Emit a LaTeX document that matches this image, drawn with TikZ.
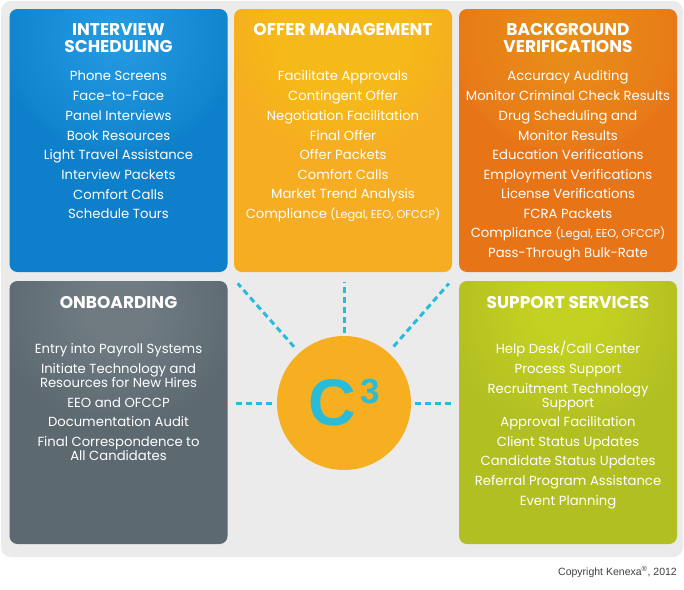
\documentclass[tikz,border=0pt]{standalone}
\usepackage{fontspec}
\setmainfont{Poppins}
\newfontfamily\arialfont{Liberation Sans}
\definecolor{ivblue}{HTML}{0E7FCA}
\definecolor{ivlight}{HTML}{35AEF2}
\definecolor{offeryel}{HTML}{F6AD22}
\definecolor{offerlight}{HTML}{FFCC1A}
\definecolor{bgorange}{HTML}{E87418}
\definecolor{bglight}{HTML}{F8A21C}
\definecolor{onbgrey}{HTML}{5D6971}
\definecolor{onblight}{HTML}{838E94}
\definecolor{supgreen}{HTML}{B2BF22}
\definecolor{suplight}{HTML}{D6E42A}
\definecolor{c3cyan}{HTML}{29BCD9}
\definecolor{c3fill}{HTML}{F7AF22}
\definecolor{panel}{HTML}{EBEBEB}
\newcommand\smallbit[1]{{\fontsize{11.3}{12}\selectfont #1}}
\tikzset{
  tile/.style 2 args={rounded corners=8pt, fill=#1, inner sep=0pt,
    minimum width=218pt, minimum height=263pt,
    path picture={\foreach \r in {120,115,...,5}
      \fill[#2, opacity=0.05] ([yshift=-28pt]path picture bounding box.north) circle (\r pt);}},
  head/.style={text=white, align=center, inner sep=0pt,
    font=\bfseries\fontsize{17}{17}\selectfont},
  item/.style={text=white, inner sep=0pt, text height=10pt, text depth=1pt,
    font=\fontsize{13.2}{14}\selectfont},
  link/.style={draw=c3cyan, line width=3pt, dash pattern=on 6pt off 4pt},
}
\begin{document}
\begin{tikzpicture}[x=1pt, y=-1pt]
  \useasboundingbox (0,0) rectangle (684,589);
  \fill[white] (0,0) rectangle (684,589);
  \fill[panel, rounded corners=10pt] (1,1) rectangle (683,557);
  % las cinco cajas
  \node[tile={ivblue}{ivlight}] (iv) at (118.5,140.5) {};
  \node[tile={offeryel}{offerlight}] (offer) at (343,140.5) {};
  \node[tile={bgorange}{bglight}] (bg) at (568,140.5) {};
  \node[tile={onbgrey}{onblight}] (onb) at (118.5,412.5) {};
  \node[tile={supgreen}{suplight}] (sup) at (568,412.5) {};
  % el circulo del centro
  \node[circle, fill=c3fill, minimum size=134pt, inner sep=0pt, text=c3cyan,
        font=\arialfont\bfseries\fontsize{66}{66}\selectfont] (c3) at (344,403)
        {C\kern4pt\raisebox{22pt}{\fontsize{35}{35}\selectfont 3}};
  % las rayas
  \draw[link, shorten <=3pt, shorten >=10pt] (c3) -- (c3 |- offer.south);
  \draw[link, shorten <=8pt, shorten >=15pt] (c3) -- (iv.south east);
  \draw[link, shorten <=8pt, shorten >=15pt] (c3) -- (bg.south west);
  \draw[link, shorten <=5pt, shorten >=5pt] (c3) -- (c3 -| onb.east);
  \draw[link, shorten <=4pt, shorten >=4pt] (c3) -- (c3 -| sup.west);
  % los titulos
  \node[head] (ivhead) at (118.5,38.5) {INTERVIEW\\SCHEDULING};
  \node[head] (offerhead) at (343,30) {OFFER MANAGEMENT};
  \node[head] (bghead) at (568,38.5) {BACKGROUND\\VERIFICATIONS};
  \node[head] (onbhead) at (118.5,303) {ONBOARDING};
  \node[head] (suphead) at (568,303) {SUPPORT SERVICES};
  % las listas
  \foreach \y/\t [count=\i] in {76/Phone Screens, 96/Face-to-Face, 116/Panel Interviews,
      136/Book Resources, 155/Light Travel Assistance, 175/Interview Packets,
      195/Comfort Calls, 214/Schedule Tours}
    \node[item] (iv\i) at (118.5,\y) {\t};
  \foreach \y/\t [count=\i] in {76/Facilitate Approvals, 96/Contingent Offer,
      116/Negotiation Facilitation, 136/Final Offer, 155/Offer Packets, 175/Comfort Calls,
      194/Market Trend Analysis, 214/{Compliance \smallbit{(Legal, EEO, OFCCP)}}}
    \node[item] (offer\i) at (343,\y) {\t};
  \foreach \y/\t [count=\i] in {76/Accuracy Auditing, 96/Monitor Criminal Check Results,
      116/Drug Scheduling and, 136/Monitor Results, 155/Education Verifications,
      175/Employment Verifications, 194/License Verifications, 214/FCRA Packets,
      233/{Compliance \smallbit{(Legal, EEO, OFCCP)}}, 253/Pass-Through Bulk-Rate}
    \node[item] (bg\i) at (568,\y) {\t};
  \foreach \y/\t [count=\i] in {349/Entry into Payroll Systems, 369/Initiate Technology and,
      383/Resources for New Hires, 403/EEO and OFCCP, 422/Documentation Audit,
      442/Final Correspondence to, 456/All Candidates}
    \node[item] (onb\i) at (118.5,\y) {\t};
  \foreach \y/\t [count=\i] in {349/{Help Desk/Call Center}, 369/Process Support,
      389/Recruitment Technology, 403/Support, 422/Approval Facilitation,
      442/Client Status Updates, 461/Candidate Status Updates,
      481/Referral Program Assistance, 501/Event Planning}
    \node[item] (sup\i) at (568,\y) {\t};
  % el pie
  \node[anchor=east, inner sep=0pt, text=black!75, font=\arialfont\fontsize{10.5}{12}\selectfont]
    (copy) at (677,572) {Copyright Kenexa\textsuperscript{®}, 2012};
\end{tikzpicture}
\end{document}
